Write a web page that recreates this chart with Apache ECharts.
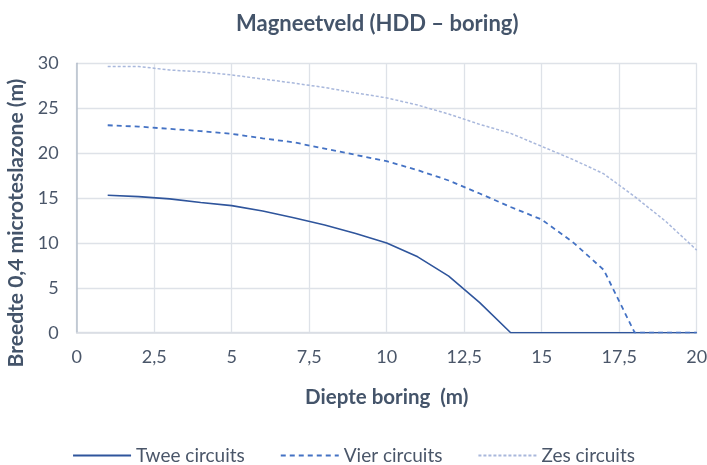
<!DOCTYPE html>
<html><head><meta charset="utf-8">
<script src="https://cdn.jsdelivr.net/npm/echarts@6/dist/echarts.min.js"></script>
<style>html,body{margin:0;padding:0;background:#fff}#c{width:707px;height:465px}</style>
</head><body><div id="c"></div>
<script>
const depth = [1,2,3,4,5,6,7,8,9,10,11,12,13,14,15,16,17,18,19,20];
const twee = [15.3,15.15,14.9,14.5,14.15,13.55,12.8,12.0,11.05,10.0,8.45,6.3,3.35,0,0,0,0,0,0,0];
const vier = [23.1,22.95,22.7,22.45,22.15,21.65,21.2,20.5,19.8,19.1,18.1,16.95,15.5,14.0,12.6,10.1,7.0,0,0,0];
const zes  = [29.65,29.65,29.25,29.05,28.7,28.25,27.8,27.3,26.7,26.15,25.35,24.35,23.2,22.2,20.75,19.3,17.7,15.15,12.4,9.2];
const seriesNames = ['Twee circuits','Vier circuits','Zes circuits'];

const font = 'Lato, "Open Sans", sans-serif';
const pair = arr => depth.map((d,i)=>[d,arr[i]]);

const chart = echarts.init(document.getElementById('c'), null, {renderer:'canvas'});
chart.setOption({
  animation:false,
  title:{text:'Magneetveld (HDD – boring)', left:231, top:8,
    textStyle:{fontFamily:font, fontSize:22, fontWeight:'bold', color:'#44546A'}},
  grid:{left:76.7, right:10.3, top:63.3, bottom:132.3, outerBoundsMode:'none', containLabel:false},
  legend:{top:441, left:'center', itemWidth:58, itemHeight:14, itemGap:35,
    itemStyle:{opacity:0},
    textStyle:{fontFamily:font, fontSize:19, color:'#4A5669'},
    data:seriesNames},
  xAxis:{type:'value', min:0, max:20, interval:2.5,
    name:'Diepte boring  (m)', nameLocation:'middle', nameGap:54,
    nameTextStyle:{fontFamily:font, fontSize:20.5, fontWeight:'bold', color:'#44546A'},
    axisLine:{show:true, lineStyle:{color:'#D9DDE3', width:1.5}},
    axisTick:{show:false},
    axisLabel:{fontFamily:font, fontSize:18, color:'#4A5669', margin:15,
      formatter:v=>String(v).replace('.',',')},
    splitLine:{show:true, lineStyle:{color:'#DEE2E8', width:1.3}}},
  yAxis:{type:'value', min:0, max:30, interval:5,
    name:'Breedte 0,4 microteslazone (m)', nameLocation:'middle', nameGap:43,
    nameTextStyle:{fontFamily:font, fontSize:21, fontWeight:'bold', color:'#44546A',
      padding:[0,50,0,0]},
    axisLine:{show:true, lineStyle:{color:'#B7C0CD', width:1.5}},
    axisTick:{show:false},
    axisLabel:{fontFamily:font, fontSize:18, color:'#4A5669', margin:18},
    splitLine:{show:true, lineStyle:{color:'#DEE2E8', width:1.3}}},
  series:[
    {name:seriesNames[0], type:'line', data:pair(twee), symbol:'none', smooth:false,
      lineStyle:{color:'#2F559C', width:1.6}, itemStyle:{color:'#2F559C'}},
    {name:seriesNames[1], type:'line', data:pair(vier), symbol:'none',
      lineStyle:{color:'#4472C4', width:1.8, type:[5,4]}, itemStyle:{color:'#4472C4'}},
    {name:seriesNames[2], type:'line', data:pair(zes), symbol:'none',
      lineStyle:{color:'#A9B8DC', width:1.5, type:[3,2]}, itemStyle:{color:'#A9B8DC'}}
  ]
});
</script></body></html>
